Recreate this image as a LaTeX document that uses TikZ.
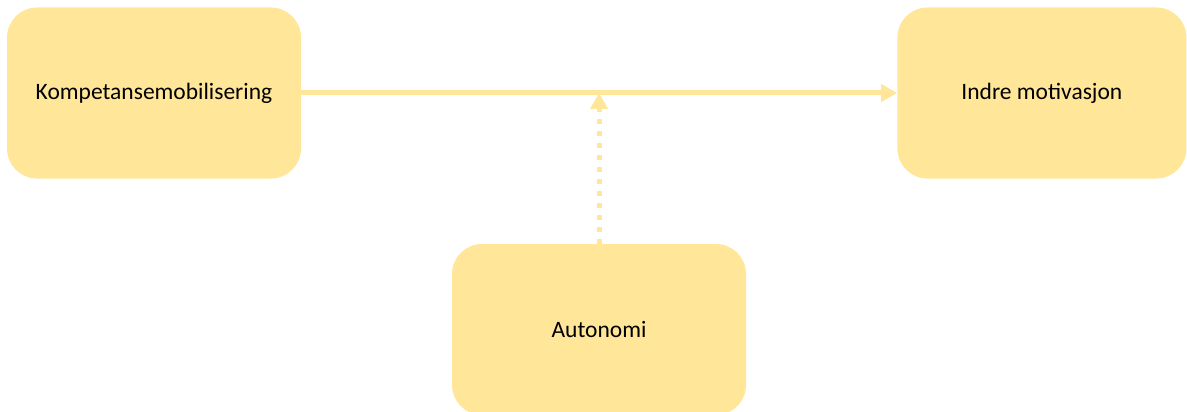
\documentclass[tikz,border=0pt]{standalone}
\usepackage{fontspec}
\setmainfont{Carlito}
\usetikzlibrary{positioning,arrows.meta}
\definecolor{boxyellow}{HTML}{FFE699}

\begin{document}
\begin{tikzpicture}[
    x=1pt,y=1pt,
    box/.style={fill=boxyellow,rounded corners=30pt,minimum width=294pt,minimum height=171pt,align=center,font=\fontsize{23.5}{28}\selectfont},
    arr/.style={-{Triangle[length=16pt,width=17pt]},line width=5pt,draw=boxyellow}
  ]
    \useasboundingbox (0,0) rectangle (1187,-412);
    \node[box] (komp) at (154,-93) {Kompetansemobilisering};
    \node[box, minimum width=289pt, right=596pt of komp] (indre) {Indre motivasjon};
    \node[box] (auto) at (599,-329.5) {Autonomi};

    \draw[arr] (komp) -- (indre);
    \draw[arr, dash pattern=on 5pt off 7pt] (auto.north) -- (auto.north |- komp.east);
  \end{tikzpicture}
\end{document}
